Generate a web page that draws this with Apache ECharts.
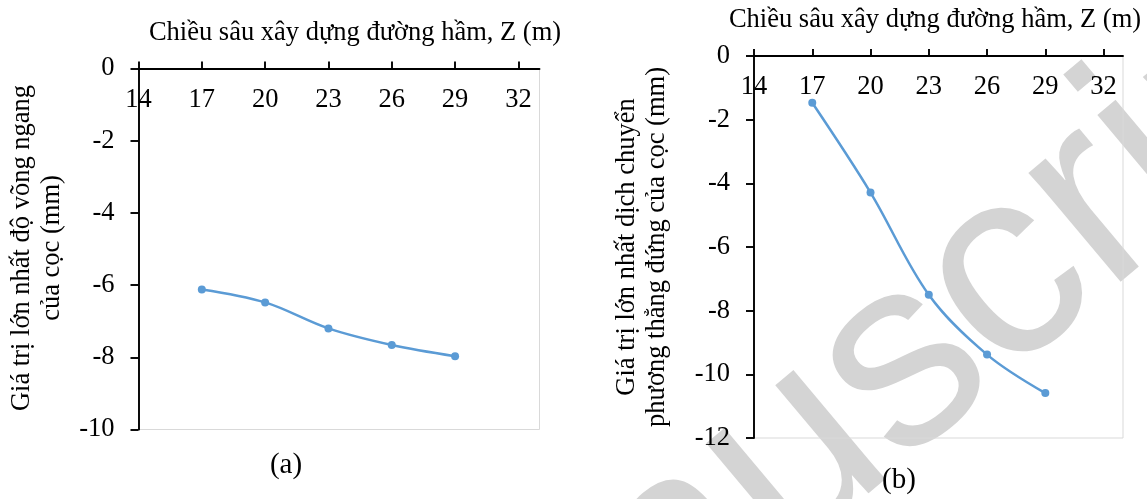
<!DOCTYPE html>
<html>
<head>
<meta charset="utf-8">
<script src="https://cdn.jsdelivr.net/npm/echarts@6/dist/echarts.min.js"></script>
<style>
  html, body { margin: 0; padding: 0; background: #fff; }
  #chart { width: 1147px; height: 499px; }
</style>
</head>
<body>
<div id="chart"></div>
<script>
// Tunnel construction depth Z (m)
const depths = [17, 20, 23, 26, 29];
// (a) maximum horizontal deflection of the pile (mm)
const deflectionA = [-6.12, -6.48, -7.20, -7.66, -7.97];
// (b) maximum vertical displacement of the pile (mm)
const displacementB = [-1.47, -4.29, -7.50, -9.38, -10.59];
// Tick values on the depth axis
const depthTicks = [14, 17, 20, 23, 26, 29, 32];

const xTitle = 'Chiều sâu xây dựng đường hầm, Z (m)';
const yTitleA = ['Giá trị lớn nhất độ võng ngang', 'của cọc (mm)'];
const yTitleB = ['Giá trị lớn nhất dịch chuyển', 'phương thẳng đứng của cọc (mm)'];
const panelTags = ['(a)', '(b)'];

const FONT = '"Liberation Serif", "Times New Roman", serif';
const LINE_BLUE = '#5b9bd5';
const FS = 26.5;

const chart = echarts.init(document.getElementById('chart'), null, { renderer: 'canvas' });

function xAxisFor(gridIndex) {
  return {
    type: 'value', gridIndex, position: 'top',
    min: 14, max: 33,
    axisLine: { onZero: false, lineStyle: { color: '#000', width: 1.9 } },
    axisTick: { show: true, inside: false, length: 7, customValues: depthTicks,
                lineStyle: { color: '#000', width: 1.9 } },
    axisLabel: { inside: true, margin: 18, customValues: depthTicks,
                 color: '#000', fontFamily: FONT, fontSize: FS },
    splitLine: { show: false }
  };
}
function yAxisFor(gridIndex, min) {
  return {
    type: 'value', gridIndex, min, max: 0, interval: 2,
    axisLine: { show: true, onZero: false, lineStyle: { color: '#000', width: 1.9 } },
    axisTick: { show: true, length: 8, lineStyle: { color: '#000', width: 1.9 } },
    axisLabel: { margin: 24, color: '#000', fontFamily: FONT, fontSize: FS },
    splitLine: { show: false }
  };
}
function lineSeries(idx, values) {
  return {
    type: 'line', xAxisIndex: idx, yAxisIndex: idx, z: 5,
    data: depths.map((d, i) => [d, values[i]]),
    smooth: 0.35,
    symbol: 'circle', symbolSize: 8,
    lineStyle: { color: LINE_BLUE, width: 2.5 },
    itemStyle: { color: LINE_BLUE },
    silent: true
  };
}
function textEl(x, y, text, size, rotation) {
  return {
    type: 'text', x, y, rotation: rotation || 0, z: 10,
    style: { text, fill: '#000', font: size + 'px ' + FONT,
             textAlign: 'center', textVerticalAlign: 'middle', lineHeight: 30 }
  };
}

const option = {
  backgroundColor: '#fff',
  animation: false,
  grid: [
    { left: 138.5, top: 68.5, width: 401, height: 361, show: true,
      borderColor: '#d9d9d9', borderWidth: 1, backgroundColor: 'transparent' },
    { left: 754, top: 56, width: 369, height: 382, show: true,
      borderColor: '#d9d9d9', borderWidth: 1, backgroundColor: 'transparent' }
  ],
  xAxis: [xAxisFor(0), xAxisFor(1)],
  yAxis: [yAxisFor(0, -10), yAxisFor(1, -12)],
  series: [lineSeries(0, deflectionA), lineSeries(1, displacementB)],
  graphic: [
    // faint diagonal watermark behind the plots
    { type: 'text', x: 840, y: 420, rotation: 40 * Math.PI / 180, z: -1, silent: true,
      style: { text: 'Manuscript', fill: '#d4d4d4',
               font: '270px "Liberation Sans", Arial, sans-serif',
               textAlign: 'center', textVerticalAlign: 'middle' } },
    textEl(355, 33, xTitle, FS),
    textEl(935, 20, xTitle, FS),
    textEl(37, 248, yTitleA.join('\n'), FS, Math.PI / 2),
    textEl(642, 247, yTitleB.join('\n'), FS, Math.PI / 2),
    textEl(286, 465, panelTags[0], 29),
    textEl(899, 480, panelTags[1], 29)
  ]
};
chart.setOption(option);
</script>
</body>
</html>
